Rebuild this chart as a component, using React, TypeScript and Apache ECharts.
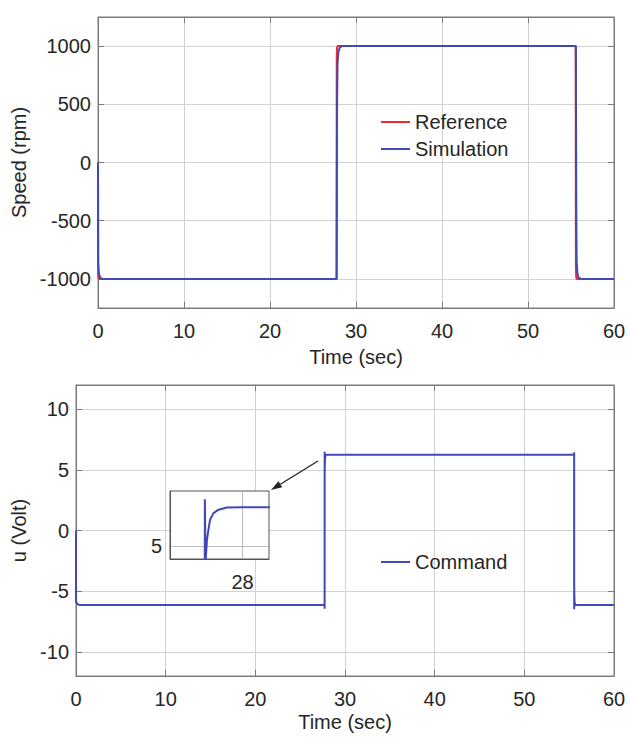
import React, { useEffect, useRef } from "react";
import * as echarts from "echarts";

// Tick values
const timeTicks = [0, 10, 20, 30, 40, 50, 60];
const speedTicks = [-1000, -500, 0, 500, 1000];
const voltTicks = [-10, -5, 0, 5, 10];
const insetTimeTicks = [28];
const insetVoltTicks = [5];

// Speed (rpm) vs time (sec)
const referenceSpeed: [number, number][] = [
  [0, 0], [0.01, -900], [0.05, -990], [0.1, -1000],
  [27.74, -1000], [27.76, 900], [27.79, 980], [27.84, 1000],
  [55.55, 1000], [55.57, -900], [55.6, -980], [55.65, -1000],
  [60, -1000],
];
const simulationSpeed: [number, number][] = [
  [0, 0], [0.03, -850], [0.1, -950], [0.25, -990], [0.5, -1000],
  [27.75, -1000], [27.8, 500], [27.85, 850], [27.95, 950], [28.1, 985], [28.35, 1000],
  [55.56, 1000], [55.62, -500], [55.66, -850], [55.74, -950], [55.85, -985], [56.1, -1000],
  [60, -1000],
];

// Command u (Volt) vs time (sec)
const command: [number, number][] = [
  [0, 0], [0.005, -5.85], [0.05, -5.95], [0.15, -6.05], [0.3, -6.12], [0.6, -6.15],
  [27.72, -6.15], [27.727, -6.45], [27.73, 6.49], [27.735, 4.5], [27.745, 5.2],
  [27.756, 5.54], [27.768, 5.85], [27.792, 6.05], [27.828, 6.16], [27.888, 6.23], [28.0, 6.24],
  [55.55, 6.24], [55.557, 6.45], [55.56, -6.49], [55.565, -4.6], [55.575, -5.2],
  [55.586, -5.54], [55.598, -5.85], [55.622, -6.0], [55.66, -6.1], [55.72, -6.14], [55.85, -6.15],
  [60, -6.15],
];

const FONT = "'Liberation Sans', Arial, sans-serif";
const AXIS = "#7a7a7a";
const TEXT = "#262626";
const GRIDC = "#d2d2d2";
const RED = "#f2282a";
const BLUE = "#4348b8";

const plain = (v: number) => String(v);

function mainAxis(extra: any) {
  return {
    type: "value",
    axisLine: { show: true, onZero: false, lineStyle: { color: AXIS, width: 1 } },
    splitLine: { show: true, lineStyle: { color: GRIDC, width: 1 } },
    nameTextStyle: { color: TEXT, fontSize: 20, fontFamily: FONT },
    ...extra,
  };
}

function boxAxis(extra: any) {
  const { ticks, ...rest } = extra;
  return {
    type: "value",
    axisLine: { show: true, onZero: false, lineStyle: { color: AXIS, width: 1 } },
    axisTick: { show: true, inside: true, length: 6, lineStyle: { color: AXIS }, customValues: ticks },
    axisLabel: { show: false },
    splitLine: { show: false },
    ...rest,
  };
}

const tickOf = (vals: number[]) => ({ show: true, inside: true, length: 6, lineStyle: { color: AXIS }, customValues: vals });
const labelOf = (vals: number[], margin: number) => ({
  color: TEXT, fontSize: 20, fontFamily: FONT, margin, customValues: vals, formatter: plain,
});

export default function App() {
  const ref = useRef<HTMLDivElement>(null);
  useEffect(() => {
    const chart = echarts.init(ref.current!, null, { renderer: "svg" });

    // arrow geometry (annotation)
    const tip = [271, 490];
    const tail = [318, 461];
    const dx = tail[0] - tip[0];
    const dy = tail[1] - tip[1];
    const len = Math.sqrt(dx * dx + dy * dy);
    const ux = dx / len, uy = dy / len;
    const bx = tip[0] + ux * 11, by = tip[1] + uy * 11;
    const px = -uy * 3.6, py = ux * 3.6;

    const option: any = {
      animation: false,
      backgroundColor: "#ffffff",
      textStyle: { fontFamily: FONT },
      grid: [
        { left: 98, top: 17, width: 516, height: 291, show: true, borderColor: AXIS, borderWidth: 1, backgroundColor: "#fff" },
        { left: 76, top: 385, width: 538, height: 291, show: true, borderColor: AXIS, borderWidth: 1, backgroundColor: "#fff" },
        { left: 170, top: 491, width: 99, height: 68, show: true, borderColor: "#555", borderWidth: 1, backgroundColor: "#fff", z: 5 },
      ],
      xAxis: [
        mainAxis({
          gridIndex: 0, min: 0, max: 60, interval: 10,
          axisTick: tickOf(timeTicks), axisLabel: labelOf(timeTicks, 13),
          name: "Time (sec)", nameLocation: "middle", nameGap: 39,
        }),
        boxAxis({ gridIndex: 0, position: "top", min: 0, max: 60, interval: 10, ticks: timeTicks }),
        mainAxis({
          gridIndex: 1, min: 0, max: 60, interval: 10,
          axisTick: tickOf(timeTicks), axisLabel: labelOf(timeTicks, 13),
          name: "Time (sec)", nameLocation: "middle", nameGap: 36,
        }),
        boxAxis({ gridIndex: 1, position: "top", min: 0, max: 60, interval: 10, ticks: timeTicks }),
        {
          type: "value", gridIndex: 2, min: 27.48, max: 28.19, z: 6,
          axisLine: { show: true, onZero: false, lineStyle: { color: "#555" } },
          axisTick: { show: false, customValues: insetTimeTicks },
          axisLabel: labelOf(insetTimeTicks, 13),
          splitLine: { show: true, lineStyle: { color: "#bbbbbb" } },
        },
      ],
      yAxis: [
        mainAxis({
          gridIndex: 0, min: -1250, max: 1250, interval: 250,
          axisTick: tickOf(speedTicks), axisLabel: labelOf(speedTicks, 7),
          name: "Speed (rpm)", nameLocation: "middle", nameGap: 57, nameRotate: 90,
        }),
        boxAxis({ gridIndex: 0, position: "right", min: -1250, max: 1250, interval: 250, ticks: speedTicks }),
        mainAxis({
          gridIndex: 1, min: -12, max: 12, interval: 1,
          axisTick: tickOf(voltTicks), axisLabel: labelOf(voltTicks, 7),
          name: "u (Volt)", nameLocation: "middle", nameGap: 37, nameRotate: 90,
        }),
        boxAxis({ gridIndex: 1, position: "right", min: -12, max: 12, interval: 1, ticks: voltTicks }),
        {
          type: "value", gridIndex: 2, min: 4.6, max: 6.75, z: 6,
          axisLine: { show: true, onZero: false, lineStyle: { color: "#555" } },
          axisTick: { show: false, customValues: insetVoltTicks },
          axisLabel: labelOf(insetVoltTicks, 8),
          splitLine: { show: true, lineStyle: { color: "#bbbbbb" } },
        },
      ],
      legend: [
        {
          orient: "vertical", left: 381, top: 112, padding: 0, itemWidth: 29, itemHeight: 2, itemGap: 7,
          icon: "rect",
          data: ["Reference", "Simulation"],
          textStyle: { color: TEXT, fontSize: 20, fontFamily: FONT, lineHeight: 20 },
        },
        {
          orient: "vertical", left: 381, top: 552, padding: 0, itemWidth: 29, itemHeight: 2,
          icon: "rect",
          data: ["Command"],
          textStyle: { color: TEXT, fontSize: 20, fontFamily: FONT, lineHeight: 20 },
        },
      ],
      series: [
        {
          name: "Reference", type: "line", xAxisIndex: 0, yAxisIndex: 0, data: referenceSpeed,
          showSymbol: false, symbol: "none", lineStyle: { color: RED, width: 2 }, itemStyle: { color: RED },
        },
        {
          name: "Simulation", type: "line", xAxisIndex: 0, yAxisIndex: 0, data: simulationSpeed,
          showSymbol: false, symbol: "none", lineStyle: { color: BLUE, width: 2 }, itemStyle: { color: BLUE },
        },
        {
          name: "Command", type: "line", xAxisIndex: 2, yAxisIndex: 2, data: command,
          showSymbol: false, symbol: "none", lineStyle: { color: BLUE, width: 2 }, itemStyle: { color: BLUE },
        },
        {
          name: "CommandInset", type: "line", xAxisIndex: 4, yAxisIndex: 4, data: command, z: 7,
          clip: true, showSymbol: false, symbol: "none", lineStyle: { color: BLUE, width: 2 }, itemStyle: { color: BLUE },
        },
      ],
      graphic: [
        {
          type: "line", z: 100,
          shape: { x1: tail[0], y1: tail[1], x2: bx, y2: by },
          style: { stroke: "#222", lineWidth: 1.3 },
        },
        {
          type: "polygon", z: 100,
          shape: { points: [[tip[0], tip[1]], [bx + px, by + py], [bx - px, by - py]] },
          style: { fill: "#222" },
        },
      ],
    };
    chart.setOption(option);
    return () => chart.dispose();
  }, []);
  return (
    <div
      ref={ref}
      style={{ position: "absolute", left: 0, top: 0, width: 629, height: 738 }}
    />
  );
}
